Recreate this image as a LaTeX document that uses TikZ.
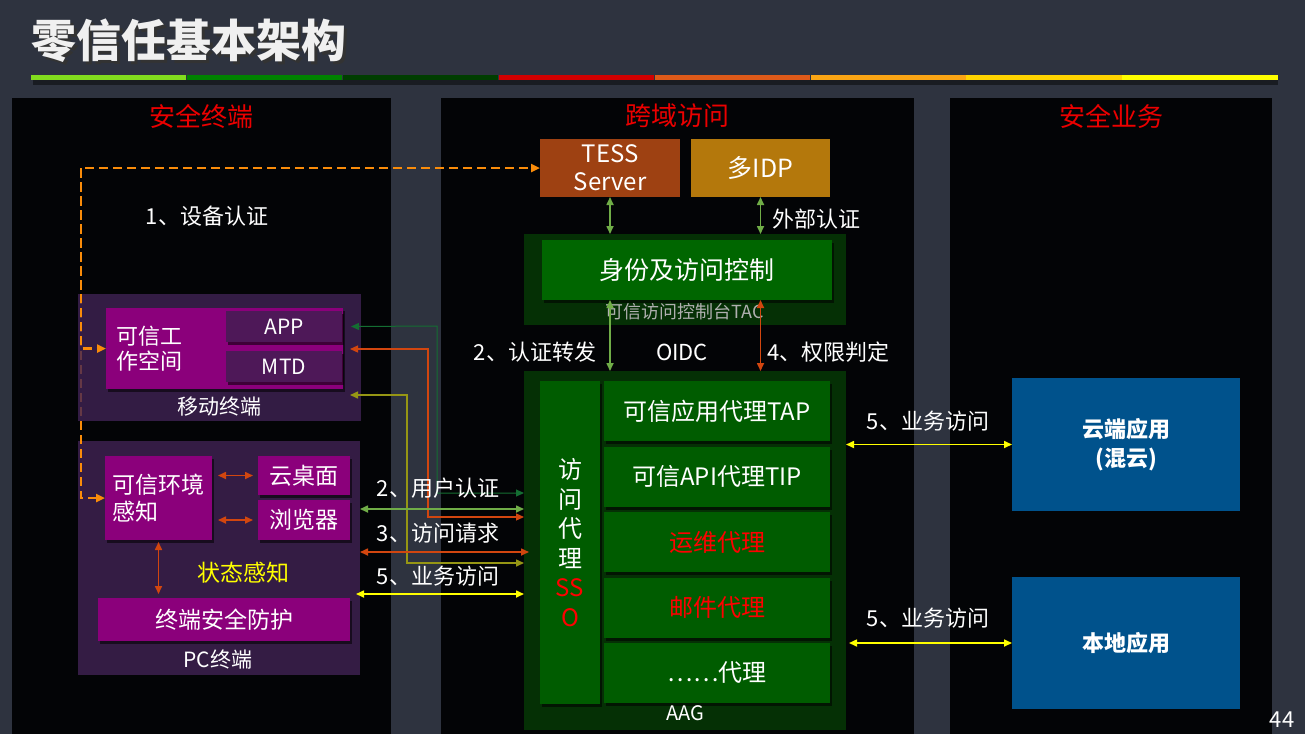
\documentclass[tikz,border=0pt]{standalone}
\usepackage{fontspec}
\setmainfont{Noto Sans CJK SC}
\usepackage{xcolor}
\usetikzlibrary{positioning,arrows.meta,calc,shadows}
\definecolor{slidebg}{RGB}{46,51,63}
\definecolor{panelbk}{RGB}{3,4,6}
\definecolor{titlered}{RGB}{235,0,0}
\definecolor{tessred}{RGB}{158,65,18}
\definecolor{idpgold}{RGB}{180,120,12}
\definecolor{aagdark}{RGB}{5,48,5}
\definecolor{aaggreen}{RGB}{0,92,0}
\definecolor{tacgreen}{RGB}{0,102,0}
\definecolor{tacgray}{RGB}{175,175,175}
\definecolor{termbg}{RGB}{52,28,68}
\definecolor{mobilebg}{RGB}{64,35,84}
\definecolor{termmag}{RGB}{139,0,123}
\definecolor{apppurple}{RGB}{78,24,88}
\definecolor{appblue}{RGB}{0,82,140}
\definecolor{lnkgreen}{RGB}{112,173,71}
\definecolor{lnkdkgreen}{RGB}{20,110,50}
\definecolor{lnkred}{RGB}{210,70,15}
\definecolor{lnkolive}{RGB}{150,150,20}
\definecolor{lnkorange}{RGB}{250,140,10}
\definecolor{lnkyellow}{RGB}{255,255,0}
\definecolor{bar1}{RGB}{130,220,30}
\definecolor{bar2}{RGB}{0,130,0}
\definecolor{bar3}{RGB}{0,62,0}
\definecolor{bar4}{RGB}{210,0,0}
\definecolor{bar5}{RGB}{222,90,25}
\definecolor{bar6}{RGB}{250,165,20}
\definecolor{bar7}{RGB}{255,212,0}
\definecolor{bar8}{RGB}{255,255,0}
\newcommand\fsz[2]{\fontsize{#1}{#2}\selectfont}
\tikzset{
  panel/.style = {anchor=north west, fill=panelbk, inner sep=0pt, outer sep=0pt},
  blk/.style   = {anchor=north west, inner sep=0pt, outer sep=0pt, align=center, text=white, font=\fsz{23}{27}},
  sbox/.style  = {blk, drop shadow={shadow xshift=2pt, shadow yshift=-3pt, opacity=.55, fill=black}},
  proxy/.style = {sbox, fill=aaggreen, minimum width=226pt, minimum height=60pt, font=\fsz{24}{28}},
  lbl/.style   = {text=white, font=\fsz{22}{26}, inner sep=1pt},
  ptitle/.style= {text=titlered, font=\fsz{26}{30}},
  flow/.style  = {{Triangle[length=8pt,width=7pt]}-{Triangle[length=8pt,width=7pt]}, line width=1.6pt},
  wire/.style  = {{Triangle[length=8pt,width=7pt]}-{Triangle[length=8pt,width=7pt]}, line width=1.1pt},
  devline/.style = {draw=lnkorange, line width=2.4pt, dash pattern=on 9pt off 5pt},
}

\begin{document}
\begin{tikzpicture}[x=1pt, y=-1pt]
  \useasboundingbox (0,0) rectangle (1305,734);
  \fill[slidebg] (0,0) rectangle (1305,734);
  % title and colour bar
  \node[font=\fsz{45}{50}\bfseries, text=black!80, anchor=west] at (31,44) {零信任基本架构};
  \node[font=\fsz{45}{50}\bfseries, text=white!94!black, anchor=west] (title) at (28,41) {零信任基本架构};
  \fill[black, opacity=.45] (33,80) rectangle (1278,85);
  \foreach \c [count=\i from 0] in {bar1,bar2,bar3,bar4,bar5,bar6,bar7,bar8}
    \fill[\c] (31+\i*155.9,75) rectangle ++(155.2,5);

  % three columns
  \node[panel, minimum width=379pt, minimum height=636pt] (termpanel) at (12,98) {};
  \node[panel, minimum width=473pt, minimum height=636pt] (crosspanel) at (441,98) {};
  \node[panel, minimum width=322pt, minimum height=636pt] (bizpanel) at (950,98) {};
  \node[ptitle] at (termpanel.north |- 0,116) {安全终端};
  \node[ptitle] at (crosspanel.north |- 0,116) {跨域访问};
  \node[ptitle] at (bizpanel.north |- 0,116) {安全业务};

  % cross-domain column
  \node[blk, fill=tessred, minimum width=140pt, minimum height=58pt, font=\fsz{24}{28}] (tess) at (540,139) {TESS\\Server};
  \node[blk, fill=idpgold, minimum width=139pt, minimum height=58pt, font=\fsz{25}{28}] (idp) at (691,139) {多IDP};
  \node[panel, fill=aagdark, minimum width=322pt, minimum height=91pt] (tac) at (524,234) {};
  \node[sbox, fill=tacgreen, minimum width=290pt, minimum height=60pt, font=\fsz{25}{28}] (acl) at (542,240) {身份及访问控制};
  \node[text=tacgray, font=\fsz{18}{21}] at (685,312) {可信访问控制台TAC};
  \node[panel, fill=aagdark, minimum width=322pt, minimum height=359pt] (aag) at (524,371) {};
  \node[sbox, fill=aaggreen, minimum width=60pt, minimum height=323pt, font=\fsz{24}{29.5}] (sso) at (540,381)
    {访\\问\\代\\理\\\textcolor{red}{SS}\\\textcolor{red}{O}};
  \node[proxy] (tap) at (604,381) {可信应用代理TAP};
  \node[proxy, below=5.5pt of tap] (tip) {可信API代理TIP};
  \node[proxy, below=5.5pt of tip, text=red] (ops) {运维代理};
  \node[proxy, below=5.5pt of ops, text=red] (mail) {邮件代理};
  \node[proxy, below=5.5pt of mail] (more) {……代理};
  \node[lbl, font=\fsz{20}{24}] at (685,713) {AAG};

  % business column
  \node[blk, fill=appblue, minimum width=228pt, minimum height=133pt, font=\fsz{22}{29}\bfseries] (cloud) at (1012,378) {云端应用\\(混云)};
  \node[blk, fill=appblue, minimum width=228pt, minimum height=132pt, font=\fsz{22}{29}\bfseries] (local) at (1012,577) {本地应用};

  % PC terminal
  \node[panel, fill=termbg, minimum width=282pt, minimum height=234pt] (pc) at (78,441) {};
  \node[sbox, fill=termmag, minimum width=107pt, minimum height=84pt, align=left] (tea) at (105,456) {可信环境\\感知};
  \node[sbox, fill=termmag, minimum width=92pt, minimum height=39pt] (vdi) at (258,456) {云桌面};
  \node[sbox, fill=termmag, minimum width=92pt, minimum height=40pt] (brw) at (258,500) {浏览器};
  \node[sbox, fill=termmag, minimum width=252pt, minimum height=43pt] (guard) at (98,598) {终端安全防护};
  \node[lbl, text=lnkyellow, font=\fsz{23}{27}] at (243,573) {状态感知};
  \node[lbl, font=\fsz{21}{25}] at (218,660) {PC终端};

  % device authentication (runs behind the mobile box)
  \coordinate (devbus) at (81,168);
  \draw[devline, {Triangle[length=9pt,width=8pt]}-{Triangle[length=9pt,width=8pt]}] (tea.west) -| (devbus) -- (tess.west);

  % mobile terminal
  \node[panel, fill=mobilebg, fill opacity=.8, minimum width=283pt, minimum height=127pt] (mobile) at (78,294) {};
  \node[sbox, fill=termmag, minimum width=237pt, minimum height=81pt] (tws) at (106,308) {};
  \node[lbl, font=\fsz{22}{25}, align=left, anchor=west] at ([xshift=9pt]tws.west) {可信工\\作空间};
  \node[sbox, fill=apppurple, minimum width=116pt, minimum height=31pt, font=\fsz{21}{24}] (app) at (226,311) {APP};
  \node[sbox, fill=apppurple, minimum width=116pt, minimum height=31pt, font=\fsz{21}{24}] (mtd) at (226,351) {MTD};
  \node[lbl, font=\fsz{21}{25}] at (219,407) {移动终端};
  \draw[devline, -{Triangle[length=9pt,width=8pt]}] (devbus) |- (tws.west);
  \node[lbl] at (207,216) {1、设备认证};

  % links inside the cross-domain column
  \draw[flow, lnkgreen] (tess.south) -- (tess.south |- tac.north);
  \draw[flow, lnkgreen] (idp.south) -- (idp.south |- tac.north);
  \node[lbl, anchor=west] at (771,219) {外部认证};
  \draw[flow, lnkgreen] (acl.south -| tess.south) -- (tess.south |- aag.north);
  \draw[flow, lnkred] (acl.south -| idp.south) -- (idp.south |- aag.north);
  \node[lbl] at (535,352) {2、认证转发};
  \node[lbl] at (682,352) {OIDC};
  \node[lbl, anchor=west] at (766,352) {4、权限判定};

  % terminal to AAG
  \draw[wire, lnkdkgreen, line width=1pt] (aag.west |- 0,493) -| (437,326) -- ([xshift=9pt]app.east);
  \draw[wire, lnkred, line width=1.2pt] (aag.west |- 0,517) -| (428,349) -- ([xshift=7pt]tws.east |- 0,349);
  \draw[wire, lnkolive, line width=1.5pt] (aag.west |- 0,563) -| (407,395) -- ([xshift=-11pt]mobile.east |- 0,395);
  \draw[flow, lnkgreen] (pc.east |- 0,509) -- (aag.west |- 0,509);
  \draw[flow, lnkred] (pc.east |- 0,552) -- ([xshift=5pt]aag.west |- 0,552);
  \draw[flow, lnkyellow] ([xshift=-4pt]pc.east |- 0,594) -- (aag.west |- 0,594);
  \node[lbl] at (438,488) {2、用户认证};
  \node[lbl] at (438,533) {3、访问请求};
  \node[lbl] at (438,576) {5、业务访问};

  % inside PC terminal
  \draw[flow, lnkred, shorten <=6pt, shorten >=5pt] (tea.east |- vdi.west) -- (vdi.west);
  \draw[flow, lnkred, shorten <=6pt, shorten >=5pt] (tea.east |- brw.west) -- (brw.west);
  \draw[flow, lnkred, shorten <=2pt, shorten >=4pt] (tea.south) -- (tea.south |- guard.north);

  % AAG to business
  \draw[flow, lnkyellow] (aag.east |- cloud.west) -- (cloud.west);
  \draw[flow, lnkyellow] ([xshift=3pt]aag.east |- local.west) -- (local.west);
  \node[lbl] at (928,421) {5、业务访问};
  \node[lbl] at (928,618) {5、业务访问};

  \node[lbl, font=\fsz{22}{26}] at (1282,720) {44};
\end{tikzpicture}
\end{document}
